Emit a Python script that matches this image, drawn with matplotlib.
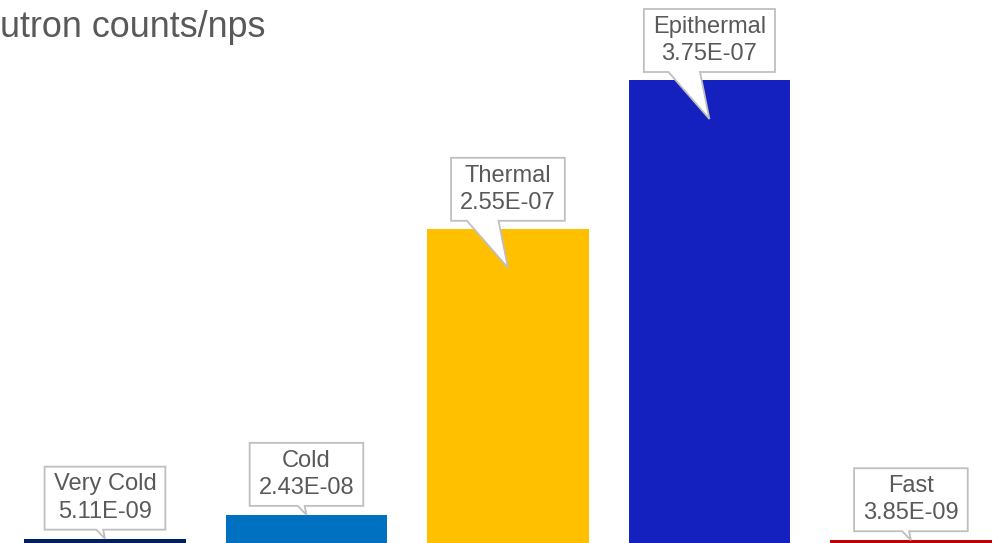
import numpy as np
import matplotlib.pyplot as plt
import matplotlib.transforms as mtransforms
from matplotlib.patches import Polygon

# %% datos
categories = ['Very Cold', 'Cold', 'Thermal', 'Epithermal', 'Fast']
values = [5.11e-9, 2.43e-8, 2.55e-7, 3.75e-7, 3.85e-9]
labels = ['5.11E-09', '2.43E-08', '2.55E-07', '3.75E-07', '3.85E-09']
colors = ['#002060', '#0070C0', '#FFC000', '#1521BE', '#C00000']
title = 'utron counts/nps'

plt.rcParams['font.family'] = ['Liberation Sans', 'DejaVu Sans']

# %% plot
fig = plt.figure(figsize=(10.05, 5.43), dpi=100)
ax = fig.add_axes([0, 0, 1, 1])
x = np.arange(len(values))
ax.bar(x, values, width=0.8, color=colors, zorder=1)
ax.set_xlim(-0.521, 4.467)
px = 3.75e-7 / 465
ax.set_ylim(2 * px, 545 * px)
ax.axis('off')

fig.text(0.5 / 1005, 1 - 37 / 543, title, ha='left', va='baseline',
         fontsize=25.8, color='#595959')

# --- callouts ---
renderer = fig.canvas.get_renderer()
ident = mtransforms.IdentityTransform()
for i, (cat, v, lab) in enumerate(zip(categories, values, labels)):
    ax_x, ax_y = ax.transData.transform((i, v))
    bar_px = v / px
    if bar_px > 100:
        tip, bottom = -39, 8
    else:
        tip, bottom = 0, 9
    h = 63
    cy = ax_y + bottom + h / 2
    t = ax.text(ax_x, cy, f'{cat}\n{lab}', ha='center', va='center', fontsize=17,
                color='#595959', linespacing=1.32, transform=ident, zorder=4)
    bb = t.get_window_extent(renderer)
    w = bb.width + 18
    drop = bottom - tip
    left, right = -0.85 * drop - 1, -0.2 * drop
    verts = [(-w / 2, bottom), (left, bottom), (0, tip), (right, bottom),
             (w / 2, bottom), (w / 2, bottom + h), (-w / 2, bottom + h)]
    verts = [(ax_x + a, ax_y + b) for a, b in verts]
    ax.add_patch(Polygon(verts, closed=True, facecolor='white', edgecolor='#BFBFBF',
                         lw=1.3, transform=ident, zorder=3))

plt.savefig('out.png', dpi=100)
